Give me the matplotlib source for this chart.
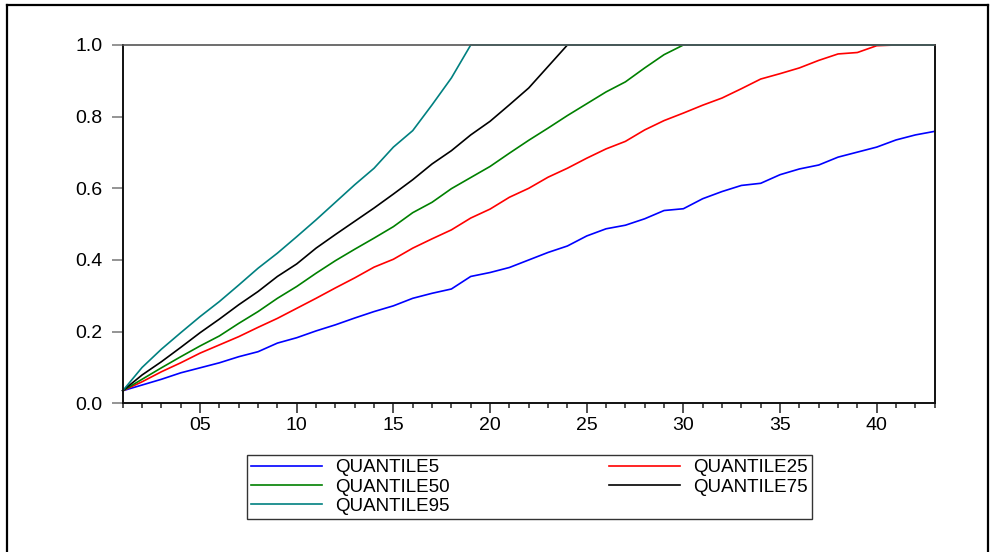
import numpy as np
import matplotlib
matplotlib.use("Agg")
import matplotlib.pyplot as plt
from matplotlib.lines import Line2D
from matplotlib.ticker import MultipleLocator, FuncFormatter

plt.rcParams['font.family'] = ['Liberation Sans', 'DejaVu Sans']

# observation index
obs = np.arange(1, 44)

# series
q5 = [0.035, 0.051, 0.067, 0.085, 0.099, 0.113, 0.130, 0.144, 0.168, 0.183,
      0.202, 0.219, 0.238, 0.256, 0.272, 0.293, 0.307, 0.319, 0.354, 0.365,
      0.379, 0.400, 0.421, 0.439, 0.467, 0.487, 0.497, 0.515, 0.538, 0.543,
      0.571, 0.591, 0.608, 0.614, 0.638, 0.654, 0.665, 0.687, 0.701, 0.715,
      0.735, 0.749, 0.759]
q25 = [0.035, 0.060, 0.088, 0.113, 0.140, 0.163, 0.186, 0.212, 0.237, 0.265,
       0.293, 0.322, 0.350, 0.380, 0.402, 0.433, 0.459, 0.484, 0.517, 0.542,
       0.575, 0.600, 0.631, 0.656, 0.684, 0.710, 0.731, 0.763, 0.789, 0.810,
       0.832, 0.852, 0.878, 0.905, 0.920, 0.936, 0.957, 0.975, 0.979, 0.998,
       1.0, 1.0, 1.0]
q50 = [0.035, 0.067, 0.099, 0.130, 0.160, 0.188, 0.223, 0.256, 0.293, 0.326,
       0.363, 0.398, 0.430, 0.461, 0.493, 0.532, 0.561, 0.599, 0.630, 0.661,
       0.698, 0.734, 0.768, 0.803, 0.836, 0.869, 0.897, 0.936, 0.973, 1.0,
       1.0, 1.0, 1.0, 1.0, 1.0, 1.0, 1.0, 1.0, 1.0, 1.0,
       1.0, 1.0, 1.0]
q75 = [0.035, 0.079, 0.116, 0.156, 0.197, 0.235, 0.275, 0.312, 0.354, 0.389,
       0.433, 0.471, 0.508, 0.545, 0.584, 0.624, 0.668, 0.705, 0.749, 0.787,
       0.833, 0.880, 0.940, 1.0, 1.0, 1.0, 1.0, 1.0, 1.0, 1.0,
       1.0, 1.0, 1.0, 1.0, 1.0, 1.0, 1.0, 1.0, 1.0, 1.0,
       1.0, 1.0, 1.0]
q95 = [0.035, 0.100, 0.151, 0.197, 0.242, 0.284, 0.330, 0.377, 0.419, 0.465,
       0.512, 0.561, 0.610, 0.656, 0.715, 0.761, 0.833, 0.908, 1.0, 1.0,
       1.0, 1.0, 1.0, 1.0, 1.0, 1.0, 1.0, 1.0, 1.0, 1.0,
       1.0, 1.0, 1.0, 1.0, 1.0, 1.0, 1.0, 1.0, 1.0, 1.0,
       1.0, 1.0, 1.0]

names = ["QUANTILE5", "QUANTILE25", "QUANTILE50", "QUANTILE75", "QUANTILE95"]
colors = ["#0000ff", "#ff0000", "#008000", "#000000", "#008080"]

fig = plt.figure(figsize=(9.93, 5.52), dpi=100)
ax = fig.add_axes([0.1236, 0.2694, 0.9413 - 0.1236, 0.9185 - 0.2694])

lines = []
for ys, name, c in zip([q5, q25, q50, q75, q95], names, colors):
    ln, = ax.plot(obs, ys, color=c, lw=1.2, label=name, clip_on=False)
    lines.append(ln)

ax.set_xlim(1, 43)
ax.set_ylim(0, 1.0)

ax.xaxis.set_major_locator(MultipleLocator(5))
ax.xaxis.set_minor_locator(MultipleLocator(1))
ax.xaxis.set_major_formatter(FuncFormatter(lambda v, p: "%02d" % int(v)))
ax.yaxis.set_major_locator(MultipleLocator(0.2))
ax.yaxis.set_major_formatter(FuncFormatter(lambda v, p: "%.1f" % v))

ax.tick_params(axis='x', which='major', direction='out', length=7, width=1.1,
               color='#222222', pad=3, labelsize=14)
ax.tick_params(axis='x', which='minor', direction='out', length=3.5, width=1.1,
               color='#222222')
ax.tick_params(axis='y', direction='out', length=8, width=1.1,
               color='#777777', pad=6.5, labelsize=14)

for s in ['left', 'bottom', 'right']:
    ax.spines[s].set_color('#111111')
    ax.spines[s].set_linewidth(1.4)
ax.spines['top'].set_color('#555555')
ax.spines['top'].set_linewidth(1.2)

# row-wise legend order like the original
order = [0, 2, 4, 1, 3]
leg = ax.legend([lines[i] for i in order], [names[i] for i in order],
                ncol=2, mode='expand', loc='upper left',
                bbox_to_anchor=(247 / 993, 1 - 455 / 552, 565 / 993, 0.0),
                bbox_transform=fig.transFigure, fontsize=13.5,
                handlelength=3.8, handletextpad=0.7, labelspacing=0.12,
                borderpad=0.22, frameon=True, fancybox=False, borderaxespad=0)
leg.get_frame().set_edgecolor('black')
leg.get_frame().set_linewidth(1.0)

# outer border of the graph window
fig.add_artist(Line2D([7 / 993, 7 / 993], [0, 1 - 5 / 552], color='black', lw=1.6))
fig.add_artist(Line2D([7 / 993, 988 / 993], [1 - 5 / 552, 1 - 5 / 552], color='black', lw=1.6))
fig.add_artist(Line2D([988 / 993, 988 / 993], [0, 1 - 5 / 552], color='black', lw=1.6))

fig.savefig("out.png", dpi=100)
